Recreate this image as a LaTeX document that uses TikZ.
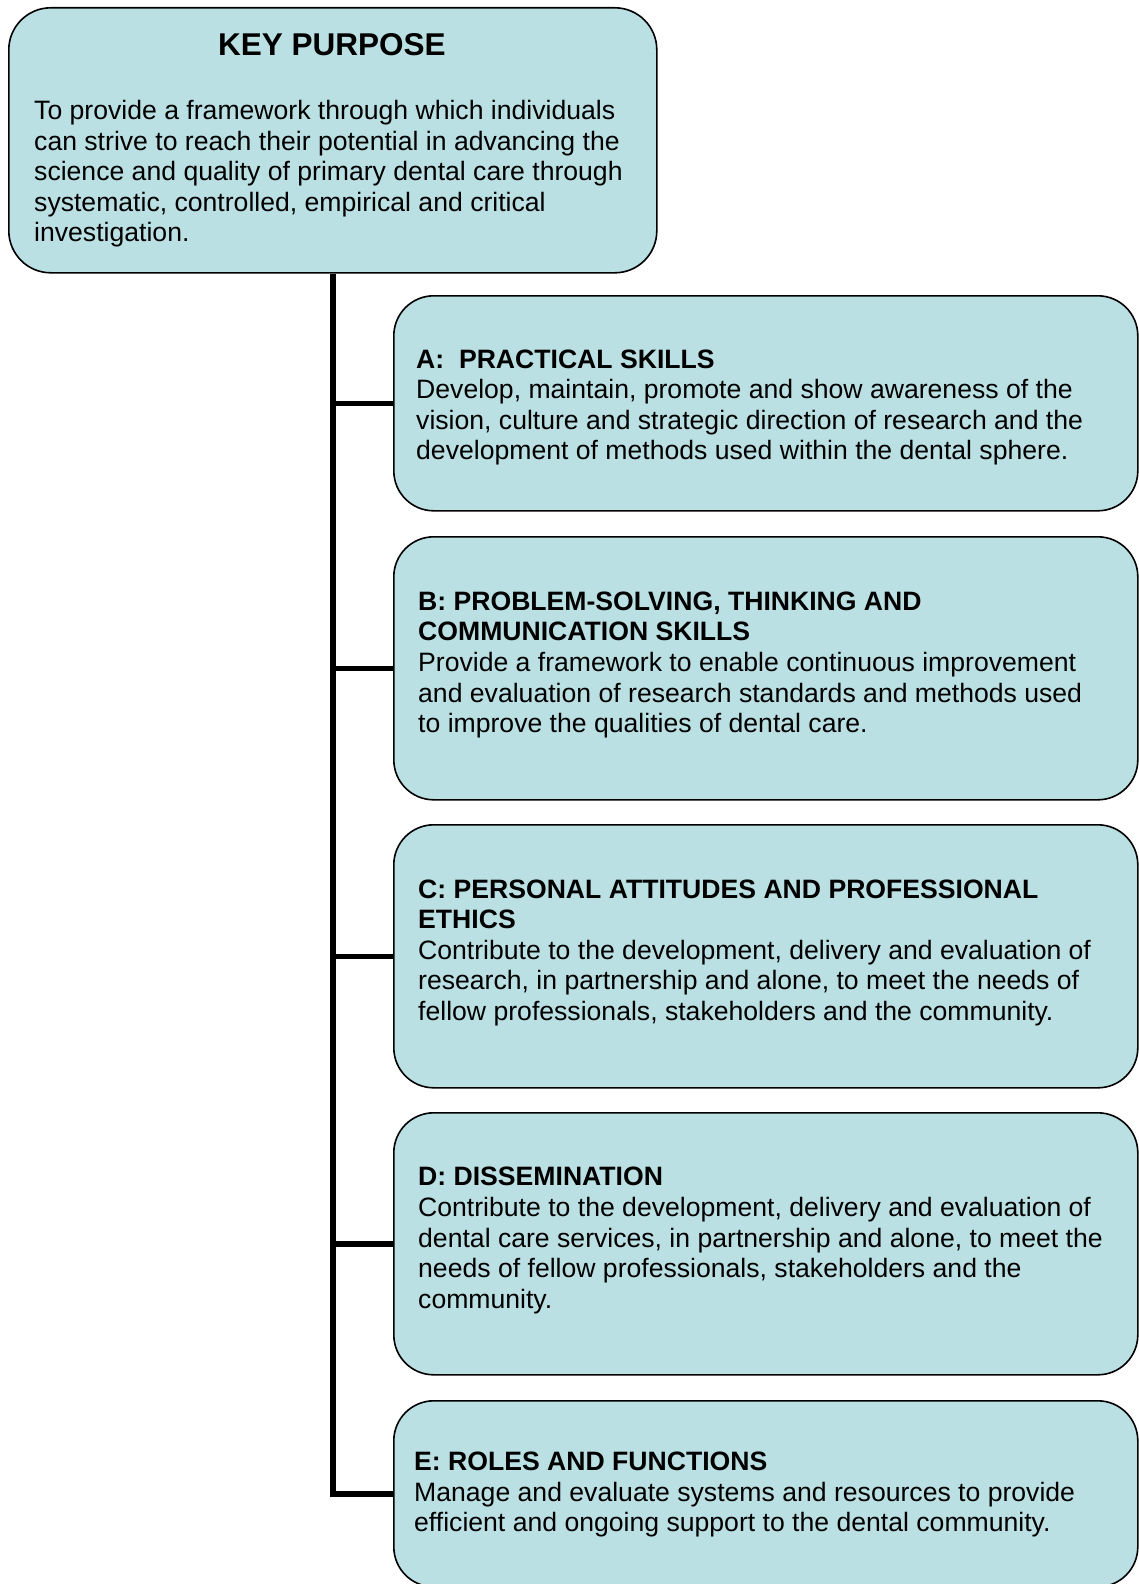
\documentclass[tikz,border=0pt]{standalone}
\usepackage{fontspec}
\setmainfont{Liberation Sans}
\definecolor{boxfill}{RGB}{187,224,227}
\newcommand{\txtlines}[1]{\begin{tabular}[t]{@{}l@{}}#1\end{tabular}}
\tikzset{
  box/.style={draw=black, line width=1.6pt, fill=boxfill, rounded corners=40pt, inner sep=0pt, anchor=north west},
  txt/.style={anchor=base west, inner sep=0pt},
  conn/.style={line width=5.5pt}
}
\begin{document}
\begin{tikzpicture}[x=1pt, y=-1pt, font=\fontsize{26.6pt}{30.6pt}\selectfont]
\useasboundingbox (0,0) rectangle (1138,1584);
% boxes
\node[box, rounded corners=42pt, minimum width=648pt, minimum height=265pt] (top) at (8,7) {};
\node[box, minimum width=744pt, minimum height=215pt] (A) at (393,295) {};
\node[box, minimum width=744pt, minimum height=263pt] (B) at (393,536) {};
\node[box, minimum width=744pt, minimum height=263pt] (C) at (393,824) {};
\node[box, minimum width=744pt, minimum height=262pt] (D) at (393,1112) {};
\node[box, minimum width=744pt, minimum height=186pt] (E) at (393,1400) {};
% connectors
\draw[conn] (top.south) -- (top.south |- E.west) -- (E.west);
\draw[conn] (top.south |- A.west) -- (A.west);
\draw[conn] (top.south |- B.west) -- (B.west);
\draw[conn] (top.south |- C.west) -- (C.west);
\draw[conn] (top.south |- D.west) -- (D.west);
% texts
\node[anchor=base, inner sep=0pt, font=\fontsize{31.5pt}{36pt}\selectfont\bfseries] (kp) at (332,56) {KEY PURPOSE};
\node[txt] (tkp) at (34,119.5) {\txtlines{To provide a framework through which individuals\\
can strive to reach their potential in advancing the\\
science and quality of primary dental care through\\
systematic, controlled, empirical and critical\\
investigation.}};
\node[txt] (tA) at (416,368) {\txtlines{\textbf{A:\ \ PRACTICAL SKILLS}\\
Develop, maintain, promote and show awareness of the\\
vision, culture and strategic direction of research and the\\
development of methods used within the dental sphere.}};
\node[txt] (tB) at (418,610.3) {\txtlines{\textbf{B: PROBLEM-SOLVING, THINKING AND}\\
\textbf{COMMUNICATION SKILLS}\\
Provide a framework to enable continuous improvement\\
and evaluation of research standards and methods used\\
to improve the qualities of dental care.}};
\node[txt] (tC) at (418,898.1) {\txtlines{\textbf{C: PERSONAL ATTITUDES AND PROFESSIONAL}\\
\textbf{ETHICS}\\
Contribute to the development, delivery and evaluation of\\
research, in partnership and alone, to meet the needs of\\
fellow professionals, stakeholders and the community.}};
\node[txt] (tD) at (418,1185.9) {\txtlines{\textbf{D: DISSEMINATION}\\
Contribute to the development, delivery and evaluation of\\
dental care services, in partnership and alone, to meet the\\
needs of fellow professionals, stakeholders and the\\
community.}};
\node[txt] (tE) at (414,1470.7) {\txtlines{\textbf{E: ROLES AND FUNCTIONS}\\
Manage and evaluate systems and resources to provide\\
efficient and ongoing support to the dental community.}};
\end{tikzpicture}
\end{document}
